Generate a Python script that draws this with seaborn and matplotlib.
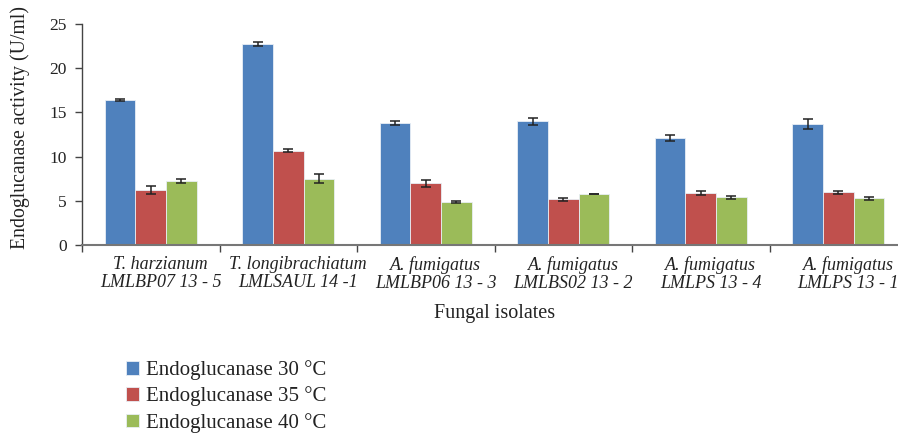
import matplotlib
matplotlib.use("Agg")
import matplotlib.pyplot as plt
import matplotlib.transforms as mtransforms
import seaborn as sns
import pandas as pd
import numpy as np

isolates = ["T. harzianum\nLMLBP07 13 - 5", "T. longibrachiatum\nLMLSAUL 14 -1",
            "A. fumigatus\nLMLBP06 13 - 3", "A. fumigatus\nLMLBS02 13 - 2",
            "A. fumigatus\nLMLPS 13 - 4", "A. fumigatus\nLMLPS 13 - 1"]
series = ["Endoglucanase 30 °C", "Endoglucanase 35 °C", "Endoglucanase 40 °C"]
vals_30 = [16.4, 22.75, 13.8, 14.0, 12.1, 13.65]
vals_35 = [6.22, 10.67, 6.98, 5.17, 5.88, 5.96]
vals_40 = [7.26, 7.5, 4.85, 5.77, 5.4, 5.28]
err_30 = [0.06, 0.2, 0.2, 0.4, 0.35, 0.55]
err_35 = [0.4, 0.2, 0.37, 0.18, 0.25, 0.18]
err_40 = [0.2, 0.5, 0.15, 0.05, 0.17, 0.15]
colors = ["#4F81BD", "#C0504D", "#9BBB59"]

sns.set_theme(style="white")
plt.rcParams['font.family'] = ['Liberation Serif', 'DejaVu Serif']

rows = []
for s, v in zip(series, [vals_30, vals_35, vals_40]):
    for iso, val in zip(isolates, v):
        rows.append({"isolate": iso, "series": s, "value": val})
df = pd.DataFrame(rows)

fig = plt.figure(figsize=(8.98, 4.34), dpi=100)
ax = fig.add_axes([82/898, 1-245/434, 825/898, 221/434])

sns.barplot(data=df, x="isolate", y="value", hue="series", order=isolates,
            hue_order=series, palette=colors, errorbar=None, width=0.67,
            edgecolor="#e8eef5", linewidth=0.6, ax=ax, legend=True, saturation=1)

for cont, errs in zip(ax.containers, [err_30, err_35, err_40]):
    xs = [p.get_x() + p.get_width()/2 for p in cont.patches]
    ys = [p.get_height() for p in cont.patches]
    ax.errorbar(xs, ys, yerr=errs, fmt="none", ecolor="#222222",
                elinewidth=1.1, capsize=3.6, capthick=1.1, zorder=5)

ax.set_xlim(-0.5, 5.5)
ax.set_ylim(0, 25)
ax.set_yticks([0, 5, 10, 15, 20, 25])
ax.tick_params(axis="y", labelsize=12.5, length=5, width=1, color="#444444",
               left=True, pad=6, labelcolor="#222222")
ax.set_xticks(range(6))
ax.set_xticklabels(isolates, fontstyle="italic", fontsize=13, color="#222222",
                   linespacing=1.05)
ax.tick_params(axis="x", length=0, pad=8)
offset = mtransforms.ScaledTranslation(10/100, 0, fig.dpi_scale_trans)
for lbl in ax.get_xticklabels():
    lbl.set_transform(lbl.get_transform() + offset)
ax.set_xticks(np.arange(-0.5, 6, 1), minor=True)
ax.tick_params(axis="x", which="minor", length=5, width=1, color="#444444",
               bottom=True, direction="out")

for side in ["top", "right"]:
    ax.spines[side].set_visible(False)
ax.spines["left"].set_color("#444444")
ax.spines["bottom"].set_color("#777777")
ax.spines["left"].set_linewidth(1)
ax.spines["bottom"].set_linewidth(1.5)

ax.set_xlabel("Fungal isolates", fontsize=14.5, color="#222222", labelpad=9)
ax.set_ylabel("Endoglucanase activity (U/ml)", fontsize=14.2, color="#222222")
ax.yaxis.set_label_coords(-0.063, 0.53)

leg = ax.legend(loc="upper left", bbox_to_anchor=(118/898, 1-352/434),
                bbox_transform=fig.transFigure, frameon=False, fontsize=15,
                handlelength=0.6, handleheight=0.6, handletextpad=0.35,
                labelspacing=0.3, borderaxespad=0)
for t in leg.get_texts():
    t.set_color("#222222")

fig.savefig("out.png", dpi=100)
